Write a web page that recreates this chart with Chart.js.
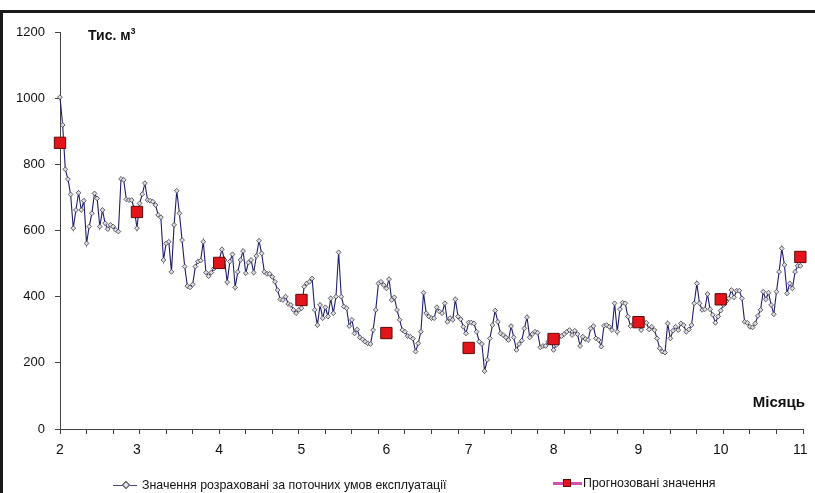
<!DOCTYPE html>
<html><head><meta charset="utf-8">
<script src="https://cdn.jsdelivr.net/npm/chart.js@4.4.1/dist/chart.umd.min.js"></script>
<style>
html,body{margin:0;padding:0;background:#fff;width:815px;height:493px;overflow:hidden;font-family:"Liberation Sans",Arial,sans-serif;}
#frame{position:absolute;left:0;top:10px;width:840px;height:520px;border-left:3px solid #1a1a1a;border-top:3px solid #1a1a1a;box-sizing:border-box;}
#c{position:absolute;left:0;top:0;}
.lbl{position:absolute;white-space:nowrap;color:#111;line-height:14px;}
.ico{position:absolute;}
</style></head><body>
<div id="frame"></div>
<canvas id="c" width="815" height="493"></canvas>
<div class="lbl" style="left:88px;top:27px;font-weight:bold;font-size:14px;line-height:16px;">Тис. м<span style="font-size:9px;position:relative;top:-6px;">3</span></div>
<div class="lbl" style="right:10px;top:393px;font-weight:bold;font-size:15px;line-height:17px;">Місяць</div>

<span class="ico" style="left:113px;top:485px;width:24px;height:1px;background:#4a4a8a;"></span>
<span class="ico" style="left:123px;top:482px;width:4px;height:4px;background:#e6e6e6;border:1px solid #4a4a5a;transform:rotate(45deg);"></span>
<div class="lbl" style="left:142px;top:478px;font-size:12.4px;">Значення розраховані за поточних умов експлуатації</div>

<span class="ico" style="left:553px;top:482px;width:29px;height:3px;background:#d24fb2;"></span>
<span class="ico" style="left:563px;top:479px;width:8px;height:8px;background:#e4141b;border:1px solid #5c0a0a;box-sizing:border-box;"></span>
<div class="lbl" style="left:583px;top:476px;font-size:12.4px;">Прогнозовані значення</div>

<script>
// Daily calculated values (tис. м3), one per day starting at month 2
const lineValues = [
1003,919,785,755,709,607,662,714,662,690,
561,612,652,712,697,612,662,622,604,617,
612,602,597,756,753,694,692,692,665,607,
682,710,743,692,690,687,677,647,640,511,
561,566,475,617,720,652,571,491,432,428,
437,491,506,509,566,473,462,473,485,500,
510,543,511,444,506,528,428,475,511,538,
471,503,511,473,523,569,531,475,469,469,
460,445,420,392,390,400,378,375,360,350,
360,365,430,440,445,455,360,314,375,335,
368,340,395,350,400,534,400,370,365,311,
330,289,301,277,271,264,259,257,299,360,
440,445,435,425,453,390,398,360,330,299,
294,281,279,273,234,259,294,412,350,340,
335,335,368,355,350,380,324,335,330,392,
340,332,309,289,322,322,319,294,264,257,
175,209,274,314,358,324,289,284,277,269,
311,277,239,257,267,304,338,277,287,294,
291,247,251,251,264,270,239,254,277,281,
287,294,299,284,297,287,251,279,272,269,
304,311,274,269,249,312,314,309,299,380,
294,362,382,380,340,311,317,320,315,299,
324,321,301,309,299,274,244,234,231,319,
274,297,309,299,319,314,294,301,314,380,
440,380,360,362,408,362,345,321,340,358,
375,385,395,420,398,418,418,395,324,321,
309,307,319,342,360,415,392,412,375,347,
415,475,546,496,410,440,425,475,493,493
];
// Forecast values at the start of each month
const forecastDays   = [0, 29, 60, 91, 123, 154, 186, 218, 249, 279];
const forecastValues = [865, 656, 502, 390, 290, 245, 272, 323, 392, 520];
// Month axis labels and their day positions
const monthTickDays = [0, 29, 60, 91, 123, 154, 186, 218, 249, 279];
const monthLabels   = ['2','3','4','5','6','7','8','9','10','11'];
const axisDays = 280;
const tickStepDays = 10;
const yTickLabels = ['0','200','400','600','800','1000','1200'];

const FONT = '"Liberation Sans", Arial, sans-serif';
Chart.defaults.font.family = FONT;

const lineData = lineValues.map((v, i) => ({x: i, y: v}));
const fcData = forecastDays.map((d, i) => ({x: d, y: forecastValues[i]}));

new Chart(document.getElementById('c'), {
  type: 'line',
  data: {
    datasets: [
      {
        label: 'Значення розраховані за поточних умов експлуатації',
        data: lineData,
        borderColor: '#1f1f70',
        borderWidth: 1.1,
        tension: 0,
        pointStyle: 'rectRot',
        pointRadius: 2.4,
        pointBackgroundColor: '#dcdcdc',
        pointBorderColor: '#3c3c4c',
        pointBorderWidth: 0.8,
        clip: false,
        order: 2
      },
      {
        label: 'Прогнозовані значення',
        data: fcData,
        showLine: false,
        pointStyle: 'rect',
        pointRadius: 8,
        pointBackgroundColor: '#e4141b',
        pointBorderColor: '#5c0a0a',
        pointBorderWidth: 1,
        clip: false,
        order: 1
      }
    ]
  },
  options: {
    responsive: false,
    animation: false,
    devicePixelRatio: 1,
    layout: {padding: {left: 0, top: 32, right: 12, bottom: 34}},
    plugins: {legend: {display: false}, tooltip: {enabled: false}},
    scales: {
      x: {
        type: 'linear',
        min: 0,
        max: axisDays,
        afterBuildTicks: axis => {
          const m = new Map();
          for (let d = 0; d <= axisDays; d += tickStepDays) m.set(d, {value: d, minorTick: true});
          monthTickDays.forEach((d, i) => {
            const t = m.get(d) || {value: d};
            t.mlabel = monthLabels[i];
            m.set(d, t);
          });
          axis.ticks = [...m.values()].sort((a, b) => a.value - b.value);
        },
        afterFit: s => { s.height = 30; },
        ticks: {
          autoSkip: false, maxRotation: 0, minRotation: 0, padding: 8,
          color: '#111', font: {size: 14},
          callback: (v, i, t) => (t[i] && t[i].mlabel) ? t[i].mlabel : ''
        },
        grid: {
          drawOnChartArea: false, drawTicks: true, tickLength: 5,
          tickColor: c => (c.tick && c.tick.minorTick) ? '#444' : 'rgba(0,0,0,0)'
        },
        border: {display: true, color: '#444', width: 1}
      },
      y: {
        min: 0,
        max: 1200,
        afterFit: s => { s.width = 60; },
        ticks: {
          stepSize: 200, padding: 10, color: '#111', font: {size: 13},
          callback: (v, i) => yTickLabels[i]
        },
        grid: {drawOnChartArea: false, drawTicks: true, tickLength: 5, tickColor: '#444'},
        border: {display: true, color: '#444', width: 1}
      }
    }
  }
});
</script>
</body></html>
